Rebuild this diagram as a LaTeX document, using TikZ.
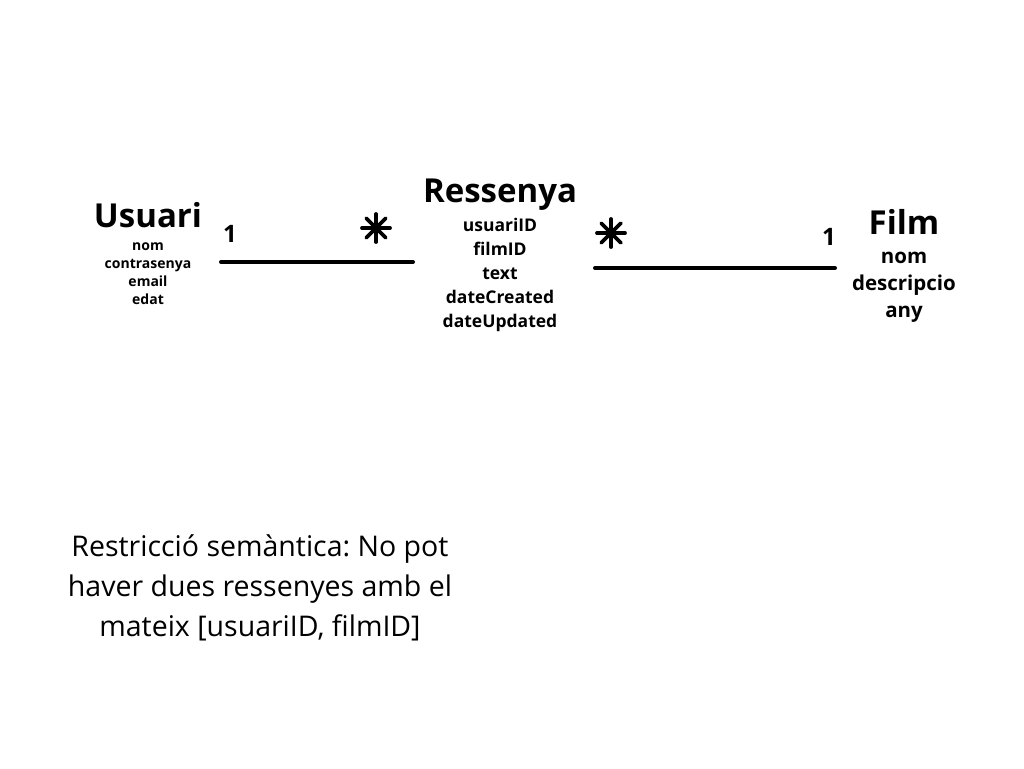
\documentclass[tikz,border=0pt]{standalone}
\usepackage{fontspec}
\setmainfont{Open Sans}
\frenchspacing
\usetikzlibrary{positioning}

\begin{document}
\begin{tikzpicture}[x=1pt, y=-1pt,
        every node/.style={inner sep=0pt, align=center}, % sin margen interno
        entity/.style={font=\fontsize{33}{33}\selectfont\bfseries, anchor=base},
        attr_small/.style={font=\fontsize{14}{18}\selectfont\bfseries},
        attr_mid/.style={font=\fontsize{17.5}{24}\selectfont\bfseries},
        attr_big/.style={font=\fontsize{20.5}{27}\selectfont\bfseries},
        mult/.style={font=\fontsize{24}{24}\selectfont\bfseries},
        star/.style={minimum size=32pt},
        star_line/.style={line width=3.8pt, line cap=round, draw=black},
        assoc_line/.style={line width=4pt, line cap=round, draw=black}
    ]
        \useasboundingbox (0,0) rectangle (1024,768);

        % --- Entidades ---
        \node[entity] (usuari) at (148,227) {Usuari};
        \node[attr_small, below=15pt of usuari] (usuari_attr) {nom\\contrasenya\\email\\edat};

        \node[entity] (ressenya) at (500,202) {Ressenya};
        \node[attr_mid, below=8pt of ressenya] (ressenya_attr) {usuariID\\filmID\\text\\dateCreated\\dateUpdated};

        \node[entity] (film) at (904,234) {Film};
        \node[attr_big, below=18pt of film] (film_attr) {nom\\descripcio\\any};

        % --- Multiplicidades ---
        \node[mult] (m_usuari) at (230,234) {1};
        \node[mult] (m_film) at (829,237) {1};
        \node[star] (m_res1) at (376,228) {};
        \node[star] (m_res2) at (611,233) {};
        \foreach \s in {m_res1, m_res2}{
            \foreach \a in {0,45,90,135}
                \draw[star_line] (\s.center) ++(\a:14) -- ++(\a+180:28);
        }

        % --- Asociaciones ---
        \coordinate (a1_start) at (221,262);
        \coordinate (a1_end) at (413,262);
        \coordinate (a2_start) at (595,268);
        \coordinate (a2_end) at (835,268);
        \draw[assoc_line] (a1_start) -- (a1_end);
        \draw[assoc_line] (a2_start) -- (a2_end);

        % --- Restriccion ---
        \node[font=\fontsize{28.5}{40}\selectfont] (restriccio) at (260,588)
            {Restricció semàntica: No pot\\haver dues ressenyes amb el\\mateix [usuariID, filmID]};
    \end{tikzpicture}
\end{document}
